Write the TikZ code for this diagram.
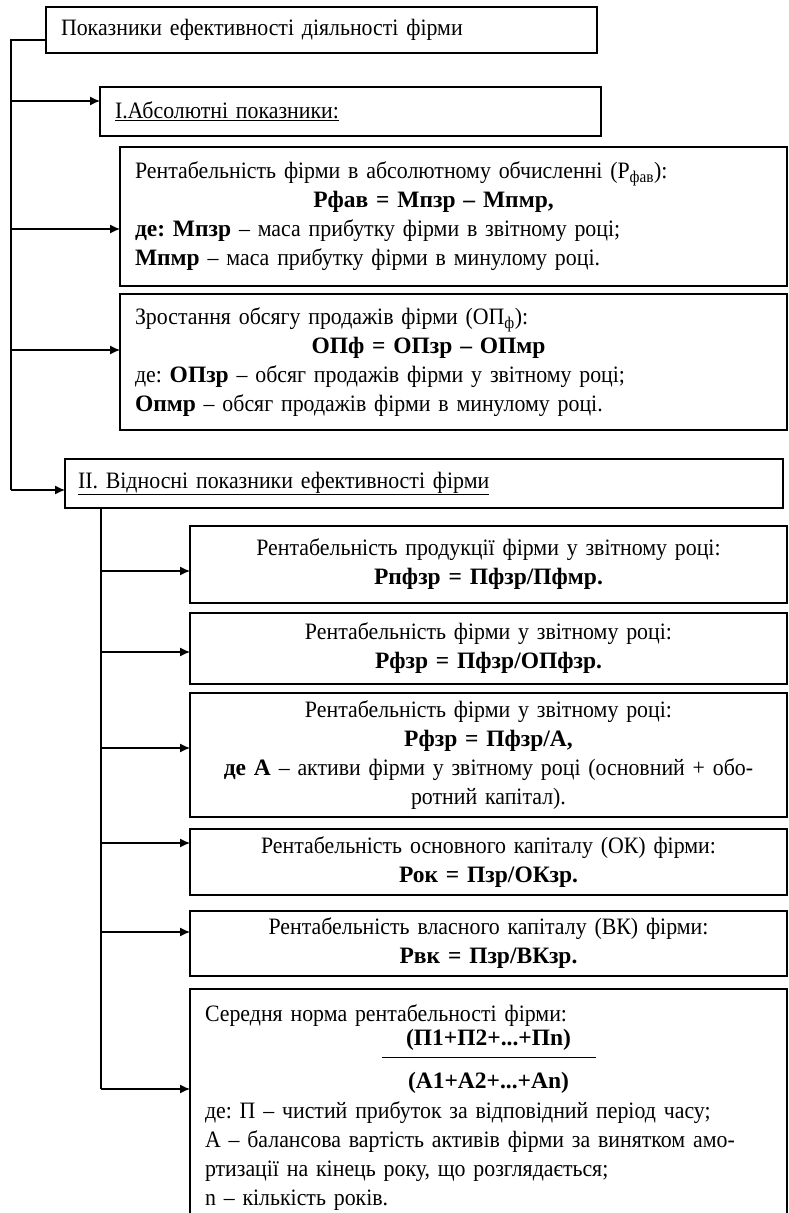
\documentclass[tikz,border=0pt]{standalone}
\usepackage{fontspec}
\setmainfont{Liberation Serif}[FakeStretch=0.93, BoldFeatures={FakeStretch=1.0}]
\usetikzlibrary{positioning,arrows.meta}
\frenchspacing

\begin{document}
\begin{tikzpicture}[x=1pt, y=-1pt, >={Latex[length=10pt,width=9pt]}, line width=1.2pt,
	font=\fontsize{23.5}{29}\selectfont,
	box/.style={draw, line width=1.6pt, anchor=north west, inner ysep=0pt, outer sep=0pt},
	lbox/.style={box, align=left, inner xsep=15pt},
	cbox/.style={box, align=center, inner xsep=6pt}]
	\useasboundingbox (0,0) rectangle (789,1213);
	% first group
	\node[lbox, text width=521pt, minimum height=46pt] (top) at (46,7) {Показники ефективності діяльності фірми};
	\node[lbox, text width=471pt, minimum height=49pt] (abs) [below right=34pt and 54pt of top.south west] {\underline{I.Абсолютні показники:}};
	\node[lbox, text width=637pt, minimum height=139pt] (rfav) [below right=11pt and 20pt of abs.south west] {Рентабельність фірми в абсолютному обчисленні (Р\textsubscript{фав}):\\
		\hspace*{\fill}\textbf{Рфав = Мпзр – Мпмр,}\hspace*{\fill}\hspace*{40pt}\mbox{}\\
		\textbf{де: Мпзр} – маса прибутку фірми в звітному році;\\
		\textbf{Мпмр} – маса прибутку фірми в минулому році.};
	\node[lbox, text width=637pt, minimum height=136pt] (opf) [below right=8pt and 0pt of rfav.south west] {Зростання обсягу продажів фірми (ОП\textsubscript{ф}):\\
		\hspace*{\fill}\textbf{ОПф = ОПзр – ОПмр}\hspace*{\fill}\hspace*{50pt}\mbox{}\\
		де: \textbf{ОПзр} – обсяг продажів фірми у звітному році;\\
		\textbf{Опмр} – обсяг продажів фірми в минулому році.};
	% second group
	\node[lbox, text width=692pt, minimum height=49pt, inner xsep=13pt] (rel) [below right=29pt and -55pt of opf.south west] {\underline{II. Відносні показники ефективності фірми}};
	\node[cbox, text width=585pt, minimum height=77pt] (ra) [below right=18pt and 125pt of rel.south west] {Рентабельність продукції фірми у звітному році:\\
		\textbf{Рпфзр = Пфзр/Пфмр.}};
	\node[cbox, text width=585pt, minimum height=71pt] (rb) [below right=10pt and 0pt of ra.south west] {Рентабельність фірми у звітному році:\\
		\textbf{Рфзр = Пфзр/ОПфзр.}};
	\node[cbox, text width=585pt, minimum height=124pt] (rc) [below right=9pt and 0pt of rb.south west] {Рентабельність фірми у звітному році:\\
		\textbf{Рфзр = Пфзр/А,}\\
		\textbf{де А} – активи фірми у звітному році (основний + обо-\\
		ротний капітал).};
	\node[cbox, text width=585pt, minimum height=66pt] (rd) [below right=12pt and 0pt of rc.south west] {Рентабельність основного капіталу (ОК) фірми:\\
		\textbf{Рок = Пзр/ОКзр.}};
	\node[cbox, text width=585pt, minimum height=65pt] (re) [below right=16pt and 0pt of rd.south west] {Рентабельність власного капіталу (ВК) фірми:\\
		\textbf{Рвк = Пзр/ВКзр.}};
	\node[lbox, text width=567pt, inner ysep=16pt, text depth=210pt] (rf) [below right=13pt and 0pt of re.south west] {Середня норма рентабельності фірми:\\[-5pt]
		\hspace*{\fill}\textbf{(П1+П2+...+Пn)}\hspace*{\fill}\mbox{}\\[-17pt]
		\hspace*{\fill}\rule{214pt}{1.2pt}\hspace*{\fill}\mbox{}\\[2pt]
		\hspace*{\fill}\textbf{(А1+А2+...+Аn)}\hspace*{\fill}\mbox{}\\[1pt]
		де: П – чистий прибуток за відповідний період часу;\\
		А – балансова вартість активів фірми за винятком амо-\\
		ртизації на кінець року, що розглядається;\\
		n – кількість років.};
	% trunk of the first group
	\coordinate (j0) at (11,40);
	\coordinate (j1) at (11,101);
	\coordinate (j2) at (11,229);
	\coordinate (j3) at (11,350);
	\coordinate (j4) at (11,490);
	\draw (top.west |- j0) -- (j0) -- (j4);
	\draw[->] (j1) -- (j1 -| abs.west);
	\draw[->] (j2) -- (j2 -| rfav.west);
	\draw[->] (j3) -- (j3 -| opf.west);
	\draw[->] (j4) -- (j4 -| rel.west);
	% trunk of the second group
	\coordinate (k1) at (101,571);
	\coordinate (k2) at (101,652);
	\coordinate (k3) at (101,748);
	\coordinate (k4) at (101,843);
	\coordinate (k5) at (101,932);
	\coordinate (k6) at (101,1089);
	\draw (k1 |- rel.south) -- (k6);
	\draw[->] (k1) -- (k1 -| ra.west);
	\draw[->] (k2) -- (k2 -| rb.west);
	\draw[->] (k3) -- (k3 -| rc.west);
	\draw[->] (k4) -- (k4 -| rd.west);
	\draw[->] (k5) -- (k5 -| re.west);
	\draw[->] (k6) -- (k6 -| rf.west);
\end{tikzpicture}
\end{document}
